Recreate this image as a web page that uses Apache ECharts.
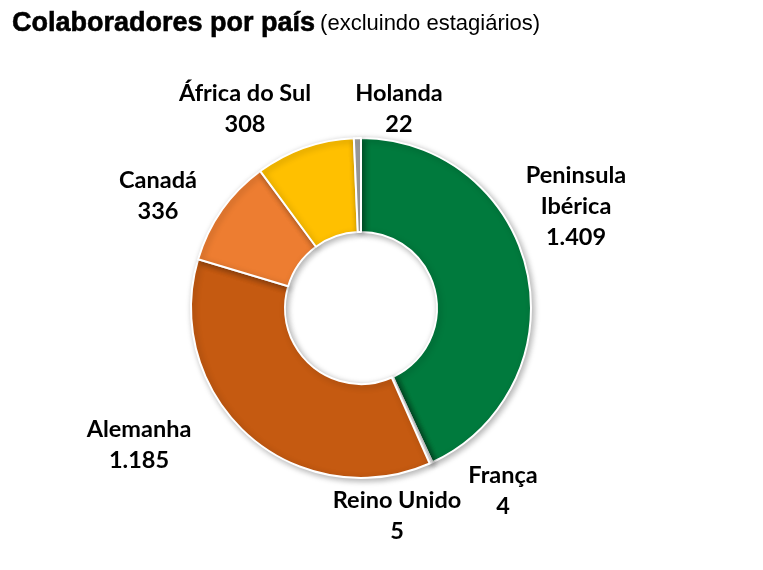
<!DOCTYPE html>
<html><head><meta charset="utf-8">
<script src="https://cdn.jsdelivr.net/npm/echarts@6/dist/echarts.min.js"></script>
<style>html,body{margin:0;padding:0;background:#fff}#c{width:763px;height:570px}</style>
</head><body><div id="c"></div>
<script>
const categories = ['Peninsula\nIbérica', 'França', 'Reino Unido', 'Alemanha', 'Canadá', 'África do Sul', 'Holanda'];
const values = [1409, 4, 5, 1185, 336, 308, 22];
const valueLabels = ['1.409', '4', '5', '1.185', '336', '308', '22'];
const colors = ['#007A3D', '#5B9BD5', '#4472C4', '#C55A11', '#ED7D31', '#FFC000', '#A5A5A5'];
const labelPos = [[576, 206], [503, 491], [397, 516], [139, 445], [158, 196], [245, 109], [399, 109]];

const chart = echarts.init(document.getElementById('c'));
chart.setOption({
  animation: false,
  title: {
    left: 7, top: 5,
    text: '{a|Colaboradores por país} {b|(excluindo estagiários)}',
    textStyle: {
      rich: {
        a: { fontFamily: 'Liberation Sans', fontWeight: 900, fontSize: 27, color: '#000', letterSpacing: -0.5, textBorderColor: '#000', textBorderWidth: 0.6 },
        b: { fontFamily: 'Liberation Sans', fontWeight: 'normal', fontSize: 22, color: '#000', letterSpacing: -0.5 }
      }
    }
  },
  series: [{
    type: 'pie',
    center: [361, 308],
    radius: [76, 170],
    startAngle: 90,
    clockwise: true,
    avoidLabelOverlap: false,
    itemStyle: { borderColor: '#fff', borderWidth: 2, shadowBlur: 6, shadowColor: 'rgba(0,0,0,0.3)', shadowOffsetX: 2, shadowOffsetY: 2 },
    label: {
      show: true,
      position: 'outside',
      formatter: p => p.name + '\n' + valueLabels[p.dataIndex],
      fontFamily: 'Lato', fontWeight: 'bold', fontSize: 23.5, color: '#000',
      lineHeight: 31, align: 'center'
    },
    labelLine: { show: false },
    labelLayout: p => ({ x: labelPos[p.dataIndex][0], y: labelPos[p.dataIndex][1], align: 'center', verticalAlign: 'middle' }),
    data: categories.map((c, i) => ({ name: c, value: values[i], itemStyle: { color: colors[i] } }))
  }]
});
</script></body></html>
